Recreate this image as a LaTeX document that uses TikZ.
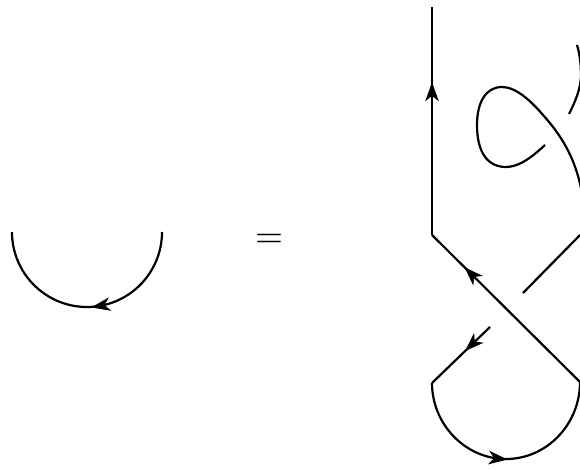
\documentclass[tikz,border=0pt]{standalone}
\usetikzlibrary{arrows.meta,decorations.markings}
\tikzset{
  strand/.style={line width=2.2pt,line cap=butt,line join=miter,black},
  tipat/.style={postaction={decorate},decoration={markings,mark=at position #1 with {\arrow{Stealth[length=19pt,width=13.5pt,inset=5.5pt]}}}},
  midtip/.style={postaction={decorate},decoration={markings,mark=at position #1 with {\arrow[xshift=9pt]{Stealth[length=19pt,width=13.5pt,inset=5.5pt]}}}}
}
\begin{document}
\begin{tikzpicture}[x=1pt,y=-1pt]
\useasboundingbox (0,0) rectangle (580,470);
\clip (0,0) rectangle (580,470);
\coordinate (capL) at (12,232);
\coordinate (capR) at (162,232);
\coordinate (top) at (432,7);
\coordinate (knee) at (432,235);
\coordinate (lowR) at (580,382);
\coordinate (lowL) at (432,383);
\coordinate (breakA) at (490,327);
\coordinate (breakB) at (523,293);
\coordinate (upR) at (580,235);
\coordinate (loopA) at (545,145);
\coordinate (loopB) at (581,188);
\coordinate (hookA) at (569,114);
\coordinate (hookB) at (577,45);
% left cap, traversed right to left
\draw[strand,midtip=0.444] (capR) .. controls (162,273.4) and (128.4,307) .. (87,307) .. controls (45.6,307) and (12,273.4) .. (capL);
\node[scale=3.6] (eq) at (269,240.5) {$=$};
% vertical strand and long diagonal
\draw[strand,tipat=0.78] (lowR) -- (knee);
\draw[strand,tipat=0.67] (knee) -- (top);
\draw[strand,tipat=0.43] (breakA) -- (lowL);
\draw[strand] (breakB) -- (upR);
% lower loop
\draw[strand,midtip=0.467] (lowL) .. controls (432,424) and (465,459) .. (506,459) .. controls (547,459) and (580,424) .. (lowR);
% upper loop
\draw[strand] (loopA) .. controls (533,156) and (520,167) .. (506,167)
  .. controls (488,167) and (477,153) .. (477,125)
  .. controls (477,102) and (486,87) .. (502,87)
  .. controls (516,87) and (531,101) .. (543,115)
  .. controls (560,134) and (574,155) .. (loopB);
\draw[strand] (hookA) .. controls (576,100) and (580,90) .. (581,77) .. controls (581,65) and (580,55) .. (hookB);
\end{tikzpicture}
\end{document}
